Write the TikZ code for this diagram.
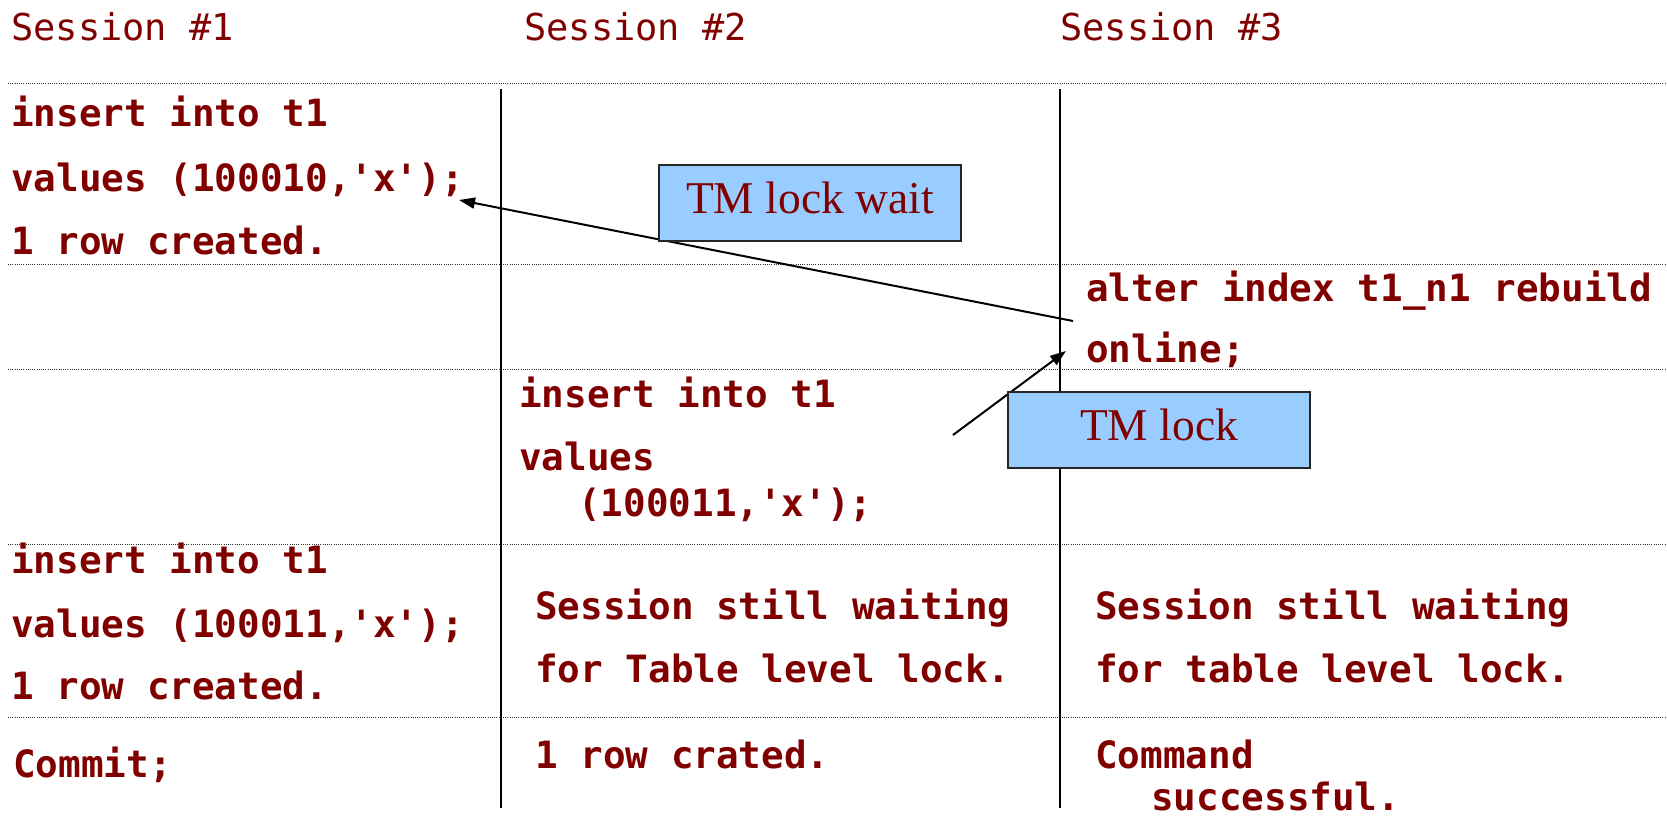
\documentclass[tikz,border=0pt]{standalone}
\usepackage{fontspec}
\setmainfont{Liberation Serif}
\newfontfamily\monof[Ligatures=TeXOff]{DejaVu Sans Mono}
\usetikzlibrary{arrows.meta}
\definecolor{codered}{RGB}{128,0,0}
\definecolor{boxblue}{RGB}{153,204,255}
\begin{document}
\begin{tikzpicture}[x=1pt,y=-1pt,
  hdr/.style={anchor=base west,inner sep=0pt,text=codered,font=\monof\fontsize{37}{44}\selectfont},
  code/.style={anchor=base west,inner sep=0pt,text=codered,font=\monof\bfseries\fontsize{37.6}{44}\selectfont},
  rowrule/.style={line width=1pt,dash pattern=on 1pt off 1.2pt,black!80},
  lane/.style={line width=1.8pt,black},
  note/.style={draw=black!85,line width=2pt,fill=boxblue,text=codered,font=\fontsize{45.5}{54}\selectfont,minimum width=302pt,minimum height=76pt,text height=30pt,text depth=10pt,inner sep=0pt},
  conn/.style={line width=2pt,-{Triangle[length=16pt,width=11pt]}}]
\useasboundingbox (0,0) rectangle (1667,817);
\fill[white] (0,0) rectangle (1667,817);
% row rules
\foreach \y in {83,264,369,544,717} \draw[rowrule] (8,\y) -- (1667,\y);
% session lanes
\draw[lane] (501,89) -- (501,808);
\draw[lane] (1060,89) -- (1060,808);
% headers
\node[hdr] (h1) at (11,40) {Session \#1};
\node[hdr] (h2) at (524,40) {Session \#2};
\node[hdr] (h3) at (1060,40) {Session \#3};
% row 1
\node[code] (r1a) at (11,126) {insert into t1};
\node[code] (r1b) at (11,191) {values (100010,'x');};
\node[code] (r1c) at (11,254) {1 row created.};
% row 2
\node[code] (r2a) at (1086,301) {alter index t1\_n1 rebuild};
\node[code] (r2b) at (1086,362) {online;};
% row 3
\node[code] (r3a) at (519,407) {insert into t1};
\node[code] (r3b) at (519,470) {values};
\node[code] (r3c) at (578,516) {(100011,'x');};
% row 4
\node[code] (r4a) at (11,573) {insert into t1};
\node[code] (r4b) at (11,637) {values (100011,'x');};
\node[code] (r4c) at (11,699) {1 row created.};
\node[code] (r4d) at (535,619) {Session still waiting};
\node[code] (r4e) at (535,682) {for Table level lock.};
\node[code] (r4f) at (1095,619) {Session still waiting};
\node[code] (r4g) at (1095,682) {for table level lock.};
% row 5
\node[code] (r5a) at (13,777) {Commit;};
\node[code] (r5b) at (535,768) {1 row crated.};
\node[code] (r5c) at (1095,768) {Command};
\node[code] (r5d) at (1151,810) {successful.};
% connectors
\coordinate (a1s) at (1073,321);
\coordinate (a1e) at (459,200);
\coordinate (a2s) at (953,435);
\coordinate (a2e) at (1066,351);
\draw[conn] (a1s) -- (a1e);
\draw[conn] (a2s) -- (a2e);
% notes
\node[note] (tmw) at (810,203) {TM lock wait};
\node[note] (tml) at (1159,430) {TM lock};
\end{tikzpicture}
\end{document}
